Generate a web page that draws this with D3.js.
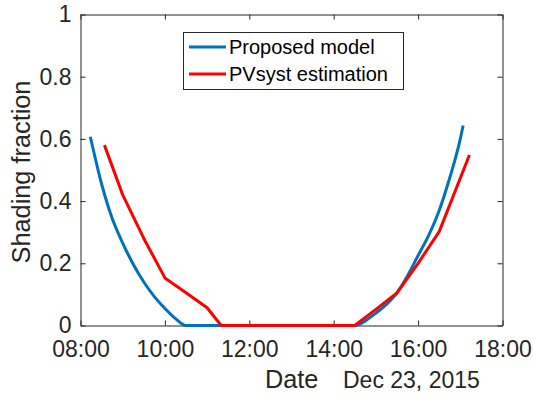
<!DOCTYPE html>
<html>
<head>
<meta charset="utf-8">
<script src="https://cdn.jsdelivr.net/npm/d3@7"></script>
<style>
  html, body { margin: 0; padding: 0; background: #fff; }
  svg { display: block; font-family: "Liberation Sans", Arial, Helvetica, sans-serif; }
</style>
</head>
<body>
<svg id="chart" width="533" height="399"></svg>
<script>
// Shading fraction over the day, Dec 23, 2015
const day = [2015, 11, 23];

const blueTimes = ["08:14","08:30","08:45","09:00","09:15","09:30","09:45","10:00","10:15","10:30",
                   "14:30","14:45","15:00","15:15","15:30","15:45","16:00","16:15","16:30","16:45","17:00","17:04"];
const blueValues = [0.607,0.455,0.345,0.265,0.197,0.14,0.093,0.055,0.022,0,
                    0,0.015,0.04,0.068,0.105,0.16,0.225,0.29,0.37,0.475,0.60,0.643];

const redTimes = ["08:34","09:00","09:30","10:00","10:30","11:00","11:20",
                  "14:30","15:00","15:30","16:00","16:30","17:13"];
const redValues = [0.58,0.42,0.28,0.153,0.105,0.057,0,
                   0,0.052,0.105,0.2,0.302,0.548];

const xTickLabels = ["08:00","10:00","12:00","14:00","16:00","18:00"];
const yTickValues = [0, 0.2, 0.4, 0.6, 0.8, 1];
const yTickLabels = ["0","0.2","0.4","0.6","0.8","1"];

const seriesNames = ["Proposed model", "PVsyst estimation"];
const seriesColors = ["#0072BD", "#FF0000"];

const toDate = s => { const [h, m] = s.split(":").map(Number); return new Date(day[0], day[1], day[2], h, m); };

const svg = d3.select("#chart");
const axisColor = "#262626";
const L = 80.5, R = 502.5, T = 14.5, B = 325.5;

const x = d3.scaleTime()
  .domain([toDate(xTickLabels[0]), toDate(xTickLabels[xTickLabels.length - 1])])
  .range([L, R]);
const y = d3.scaleLinear().domain([0, 1]).range([B, T]);

const xTicks = xTickLabels.map(toDate);
const tickFont = 23;

// axes: ticks point inward, box around the plot
const gx = svg.append("g").attr("transform", `translate(0,${B})`)
  .call(d3.axisBottom(x).tickValues(xTicks).tickFormat((d, i) => xTickLabels[i]).tickSizeInner(-5).tickSizeOuter(0).tickPadding(15));
const gxTop = svg.append("g").attr("transform", `translate(0,${T})`)
  .call(d3.axisTop(x).tickValues(xTicks).tickFormat("").tickSizeInner(-5).tickSizeOuter(0));
const gy = svg.append("g").attr("transform", `translate(${L},0)`)
  .call(d3.axisLeft(y).tickValues(yTickValues).tickFormat((d, i) => yTickLabels[i]).tickSizeInner(-5).tickSizeOuter(0).tickPadding(9));
const gyR = svg.append("g").attr("transform", `translate(${R},0)`)
  .call(d3.axisRight(y).tickValues(yTickValues).tickFormat("").tickSizeInner(-5).tickSizeOuter(0));

[gx, gxTop, gy, gyR].forEach(g => {
  g.select(".domain").attr("stroke", axisColor).attr("stroke-width", 1);
  g.selectAll(".tick line").attr("stroke", axisColor).attr("stroke-width", 1);
  g.selectAll(".tick text").attr("fill", axisColor).attr("font-size", tickFont)
    .attr("font-family", "Liberation Sans, Arial, sans-serif");
});

// series lines
const line = curve => d3.line().x(d => x(d.t)).y(d => y(d.v)).curve(curve);
const blue = blueTimes.map((t, i) => ({ t: toDate(t), v: blueValues[i] }));
const red = redTimes.map((t, i) => ({ t: toDate(t), v: redValues[i] }));

svg.append("path").datum(blue)
  .attr("d", line(d3.curveMonotoneX))
  .attr("fill", "none").attr("stroke", seriesColors[0]).attr("stroke-width", 3)
  .attr("stroke-linejoin", "round");
svg.append("path").datum(red)
  .attr("d", line(d3.curveLinear))
  .attr("fill", "none").attr("stroke", seriesColors[1]).attr("stroke-width", 3)
  .attr("stroke-linejoin", "round");

// axis titles
svg.append("text")
  .attr("transform", `translate(30,172) rotate(-90)`)
  .attr("text-anchor", "middle")
  .attr("font-size", 25.3).attr("fill", axisColor)
  .text("Shading fraction");
svg.append("text")
  .attr("x", 265).attr("y", 388)
  .attr("font-size", 25.3).attr("fill", axisColor)
  .text("Date");
svg.append("text")
  .attr("x", 343).attr("y", 388)
  .attr("font-size", 23).attr("fill", axisColor)
  .text("Dec 23, 2015");

// legend
const leg = svg.append("g");
leg.append("rect")
  .attr("x", 183.5).attr("y", 32.5).attr("width", 220).attr("height", 57)
  .attr("fill", "#fff").attr("stroke", axisColor).attr("stroke-width", 1);
seriesNames.forEach((name, i) => {
  const cy = 47 + i * 27;
  leg.append("line")
    .attr("x1", 189).attr("x2", 226).attr("y1", cy).attr("y2", cy)
    .attr("stroke", seriesColors[i]).attr("stroke-width", 3);
  leg.append("text")
    .attr("x", 229).attr("y", cy + 7)
    .attr("font-size", 20).attr("fill", "#000")
    .text(name);
});
</script>
</body>
</html>
